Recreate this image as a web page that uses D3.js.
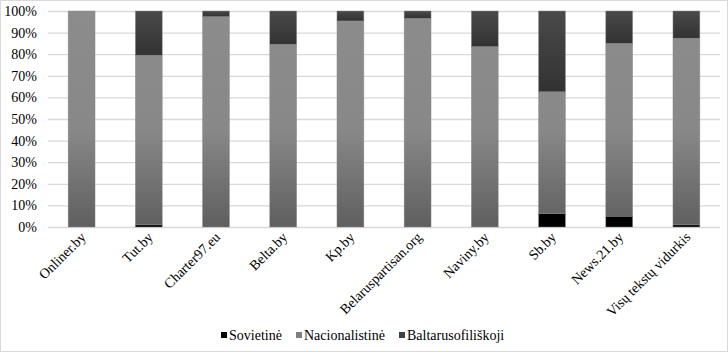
<!DOCTYPE html>
<html>
<head>
<meta charset="utf-8">
<script src="https://cdn.jsdelivr.net/npm/d3@7"></script>
<style>
  body { margin: 0; background: #fff; }
  svg text { font-family: "Liberation Serif", serif !important; }
</style>
</head>
<body>
<script>
let w = 728;
let h = 352;

// data (percent of texts)
let sites = ["Onliner.by", "Tut.by", "Charter97.eu", "Belta.by", "Kp.by",
  "Belaruspartisan.org", "Naviny.by", "Sb.by", "News.21.by", "Visų tekstų vidurkis"];
let sovietine = [0, 1, 0, 0, 0, 0, 0, 6.3, 5, 1];
let nacionalistine = [100, 78.5, 97.4, 84.6, 95.4, 96.6, 83.5, 56.3, 80, 86.4];
let baltarusofiliskoji = [0, 20.5, 2.6, 15.4, 4.6, 3.4, 16.5, 37.4, 15, 12.6];
let seriesNames = ["Sovietinė", "Nacionalistinė", "Baltarusofiliškoji"];
let yTicks = [0, 0.1, 0.2, 0.3, 0.4, 0.5, 0.6, 0.7, 0.8, 0.9, 1];

let padL = 48, padR = 720, padT = 11, padB = 227;

let rows = sites.map((s, i) => ({
  site: s,
  "Sovietinė": sovietine[i] / 100,
  "Nacionalistinė": nacionalistine[i] / 100,
  "Baltarusofiliškoji": baltarusofiliskoji[i] / 100
}));

let stack = d3.stack().keys(seriesNames)(rows);

let xScale = d3.scaleBand()
  .domain(sites)
  .range([padL, padR])
  .paddingInner(0.6)
  .paddingOuter(0.3);

let yScale = d3.scaleLinear()
  .domain([0, 1])
  .range([padB, padT]);

let svg = d3.select("body")
  .append("svg")
  .attr("width", w)
  .attr("height", h);

// chart border
svg.append("rect")
  .attr("x", 0.5).attr("y", 0.5)
  .attr("width", w - 1).attr("height", h - 1)
  .attr("fill", "#fff")
  .attr("stroke", "#d9d9d9");

// gradients
let defs = svg.append("defs");
let gNac = defs.append("linearGradient")
  .attr("id", "gNac")
  .attr("gradientUnits", "userSpaceOnUse")
  .attr("x1", 0).attr("x2", 0)
  .attr("y1", padT).attr("y2", padB);
gNac.append("stop").attr("offset", "0%").attr("stop-color", "#8c8c8c");
gNac.append("stop").attr("offset", "55%").attr("stop-color", "#888888");
gNac.append("stop").attr("offset", "100%").attr("stop-color", "#5f5f5f");

let gBal = defs.append("linearGradient")
  .attr("id", "gBal")
  .attr("x1", 0).attr("x2", 0)
  .attr("y1", 0).attr("y2", 1);
gBal.append("stop").attr("offset", "0%").attr("stop-color", "#4a4a4a");
gBal.append("stop").attr("offset", "100%").attr("stop-color", "#323232");

let fills = {
  "Sovietinė": "#000000",
  "Nacionalistinė": "url(#gNac)",
  "Baltarusofiliškoji": "url(#gBal)"
};
let legendFills = {
  "Sovietinė": "#000000",
  "Nacionalistinė": "#7f7f7f",
  "Baltarusofiliškoji": "#404040"
};

// y axis
let yAxis = d3.axisLeft(yScale)
  .tickValues(yTicks)
  .tickFormat(d3.format(".0%"))
  .tickSize(0)
  .tickPadding(11);

let yG = svg.append("g")
  .attr("transform", "translate(" + padL + ",0)")
  .call(yAxis);
yG.attr("font-size", 14);
yG.select(".domain").remove();
yG.selectAll("text").attr("fill", "#000");

// grid lines
svg.append("g")
  .selectAll("line")
  .data(yTicks)
  .enter()
  .append("line")
  .attr("x1", padL)
  .attr("x2", padR)
  .attr("y1", (d) => yScale(d) + 0.5)
  .attr("y2", (d) => yScale(d) + 0.5)
  .attr("stroke", "#d9d9d9")
  .attr("stroke-width", 1.3);

// bars
svg.append("g")
  .selectAll("g")
  .data(stack)
  .enter()
  .append("g")
  .attr("fill", (d) => fills[d.key])
  .selectAll("rect")
  .data((d) => d)
  .enter()
  .append("rect")
  .attr("x", (d) => xScale(d.data.site))
  .attr("width", xScale.bandwidth())
  .attr("y", (d) => yScale(d[1]))
  .attr("height", (d) => yScale(d[0]) - yScale(d[1]))
  .attr("stroke", "#8a8a8a")
  .attr("stroke-width", 0.6)
  .attr("stroke-opacity", (d) => (d[1] - d[0]) > 0 ? 0.7 : 0);

// x axis
let xAxis = d3.axisBottom(xScale).tickSize(0).tickPadding(0);
let xG = svg.append("g")
  .attr("transform", "translate(0," + padB + ")")
  .call(xAxis);
xG.attr("font-size", 14);
xG.select(".domain").remove();
xG.selectAll("text")
  .attr("fill", "#000")
  .attr("text-anchor", "end")
  .attr("dy", 0)
  .attr("transform", "translate(5,11) rotate(-45)");

// legend
let legendX = [221, 296, 399];
let lg = svg.append("g").attr("font-size", 14);
seriesNames.forEach((name, i) => {
  lg.append("rect")
    .attr("x", legendX[i])
    .attr("y", 332)
    .attr("width", 6)
    .attr("height", 6)
    .attr("fill", legendFills[name]);
  lg.append("text")
    .attr("x", legendX[i] + 8)
    .attr("y", 340)
    .text(name);
});
</script>
</body>
</html>
